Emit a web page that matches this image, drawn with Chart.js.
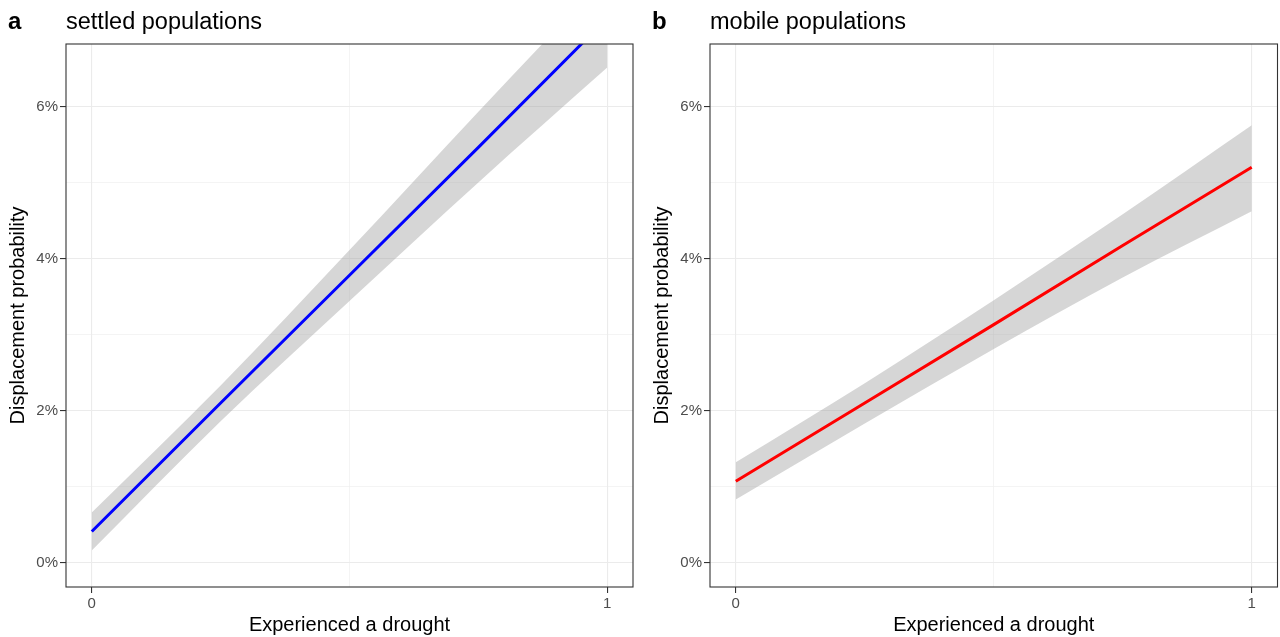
<!DOCTYPE html>
<html>
<head>
<meta charset="utf-8">
<script src="https://cdn.jsdelivr.net/npm/chart.js@4.4.0/dist/chart.umd.min.js"></script>
<style>
html, body { margin: 0; padding: 0; background: #fff; }
#wrap { display: flex; width: 1280px; height: 637px; }
canvas { display: block; }
</style>
</head>
<body>
<div id="wrap">
  <canvas id="panelA" width="640" height="637"></canvas>
  <canvas id="panelB" width="640" height="637"></canvas>
</div>
<script>
// predicted displacement probability (%) with 95% band
const drought = [0, 0.25, 0.5, 0.75, 1];

const settledFit   = [0.41, 2.10, 3.78, 5.46, 7.16];
const settledLower = [0.16, 1.86, 3.44, 5.00, 6.51];
const settledUpper = [0.66, 2.33, 4.11, 5.93, 7.72];

const mobileFit   = [1.07, 2.10, 3.13, 4.17, 5.20];
const mobileLower = [0.83, 1.83, 2.81, 3.75, 4.62];
const mobileUpper = [1.32, 2.36, 3.45, 4.58, 5.75];

const xTicks = [0, 0.5, 1];
const yTicks = [0, 1, 2, 3, 4, 5, 6];
const xLabels = { 0: '0', 1: '1' };
const yLabels = { 0: '0%', 2: '2%', 4: '4%', 6: '6%' };

Chart.defaults.font.family = "'Liberation Sans', Arial, sans-serif";

const FONT = "'Liberation Sans', Arial, sans-serif";

// panel box + "a settled populations" style heading
const panelFrame = {
  id: 'panelFrame',
  afterDraw(chart, args, opts) {
    const { ctx, chartArea: a } = chart;
    ctx.save();
    ctx.strokeStyle = '#333333';
    ctx.lineWidth = 1.1;
    ctx.strokeRect(a.left, a.top, a.right - a.left, a.bottom - a.top);
    ctx.fillStyle = '#000';
    ctx.textBaseline = 'alphabetic';
    ctx.textAlign = 'left';
    ctx.font = 'bold 24px ' + FONT;
    ctx.fillText(opts.tag, opts.tagX, 29);
    ctx.font = '23.5px ' + FONT;
    ctx.fillText(opts.title, a.left, 29);
    ctx.restore();
  }
};

const pts = arr => drought.map((x, i) => ({ x: x, y: arr[i] }));

function makePanel(id, tag, title, fit, lower, upper, color, opt) {
  new Chart(document.getElementById(id), {
    type: 'line',
    data: {
      datasets: [
        {
          label: 'fit',
          data: pts(fit),
          borderColor: color,
          borderWidth: 3,
          pointRadius: 0,
          fill: false,
          order: 0
        },
        {
          label: 'lower',
          data: pts(lower),
          borderColor: 'transparent',
          pointRadius: 0,
          cubicInterpolationMode: 'monotone',
          fill: false,
          order: 1
        },
        {
          label: 'upper',
          data: pts(upper),
          borderColor: 'transparent',
          backgroundColor: 'rgba(153,153,153,0.4)',
          pointRadius: 0,
          cubicInterpolationMode: 'monotone',
          fill: '-1',
          order: 2
        }
      ]
    },
    options: {
      responsive: false,
      animation: false,
      layout: { padding: { top: 44, right: opt.padRight, left: 0, bottom: 0 } },
      plugins: {
        legend: { display: false },
        tooltip: { enabled: false },
        panelFrame: { tag: tag, tagX: opt.tagX, title: title }
      },
      scales: {
        x: {
          type: 'linear',
          min: -0.05,
          max: 1.05,
          afterBuildTicks: s => { s.ticks = xTicks.map(v => ({ value: v })); },
          afterFit: s => { s.height = 50; },
          border: { display: false },
          grid: {
            color: '#EBEBEB',
            lineWidth: c => (c.tick && xLabels[c.tick.value] !== undefined) ? 1.1 : 0.55,
            tickLength: 6,
            tickWidth: 1.1,
            tickColor: c => (c.tick && xLabels[c.tick.value] !== undefined) ? '#333333' : 'rgba(0,0,0,0)'
          },
          ticks: {
            color: '#4D4D4D',
            font: { size: 15 },
            padding: 2,
            maxRotation: 0,
            autoSkip: false,
            callback: v => xLabels[v] ?? ''
          },
          title: {
            display: true,
            text: 'Experienced a drought',
            color: '#000',
            font: { size: 20 },
            padding: { top: 0, bottom: 0 }
          }
        },
        y: {
          type: 'linear',
          min: -0.32,
          max: 6.82,
          afterBuildTicks: s => { s.ticks = yTicks.map(v => ({ value: v })); },
          afterFit: s => { s.width = opt.yWidth; },
          border: { display: false },
          grid: {
            color: '#EBEBEB',
            lineWidth: c => (c.tick && yLabels[c.tick.value] !== undefined) ? 1.1 : 0.55,
            tickLength: 6,
            tickWidth: 1.1,
            tickColor: c => (c.tick && yLabels[c.tick.value] !== undefined) ? '#333333' : 'rgba(0,0,0,0)'
          },
          ticks: {
            color: '#4D4D4D',
            font: { size: 15 },
            padding: 2,
            autoSkip: false,
            callback: v => yLabels[v] ?? ''
          },
          title: {
            display: true,
            text: 'Displacement probability',
            color: '#000',
            font: { size: 20 },
            padding: { top: opt.yTitlePad, bottom: 0 }
          }
        }
      }
    },
    plugins: [panelFrame]
  });
}

makePanel('panelA', 'a', 'settled populations', settledFit, settledLower, settledUpper, '#0000FF',
  { padRight: 7, yWidth: 66, tagX: 8, yTitlePad: 6.5 });
makePanel('panelB', 'b', 'mobile populations', mobileFit, mobileLower, mobileUpper, '#FF0000',
  { padRight: 2.5, yWidth: 70, tagX: 12, yTitlePad: 10.5 });
</script>
</body>
</html>
